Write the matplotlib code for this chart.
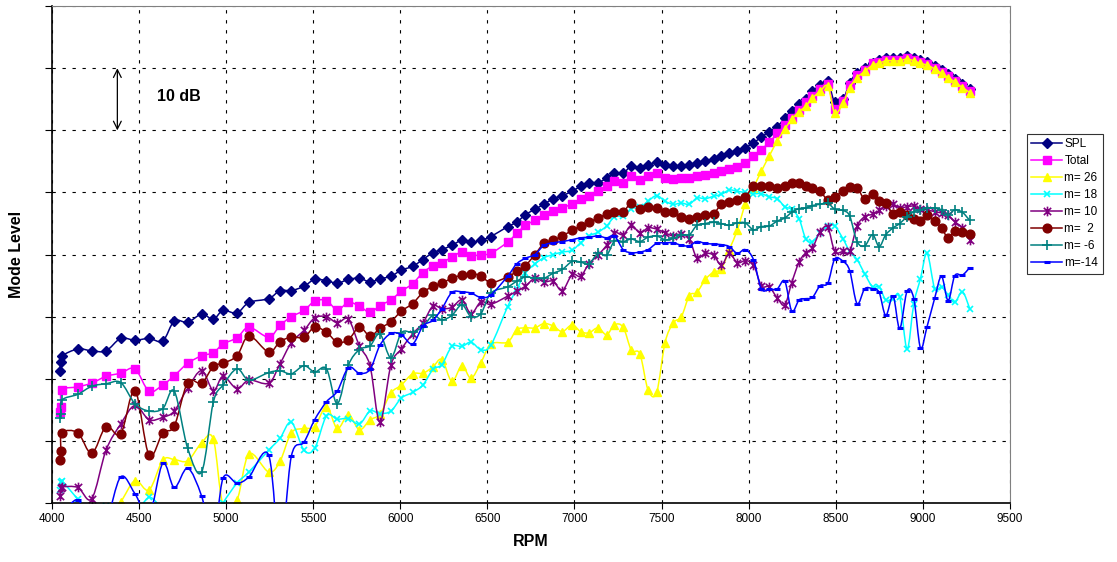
import numpy as np
import matplotlib
matplotlib.use("Agg")
import matplotlib.pyplot as plt
from matplotlib.path import Path
from matplotlib.patches import PathPatch
from matplotlib.lines import Line2D

plt.rcParams['font.family'] = ['Liberation Sans', 'DejaVu Sans']

# shared RPM axis for all modes
rpm = [4045, 4050, 4058, 4148, 4228, 4310, 4394, 4476, 4557, 4636,
       4702, 4779, 4859, 4926, 4982, 5062, 5131, 5244, 5309, 5374,
       5447, 5508, 5576, 5638, 5702, 5765, 5826, 5883, 5946, 6006,
       6070, 6130, 6187, 6239, 6296, 6354, 6406, 6463, 6520,
       6616, 6668, 6718, 6773, 6825, 6878, 6930, 6987, 7035, 7083,
       7135, 7185, 7230, 7280, 7327, 7376, 7423, 7472, 7520, 7567,
       7614, 7660, 7703, 7752, 7799, 7844, 7889, 7935, 7981, 8028,
       8073, 8119, 8165, 8208, 8248, 8290, 8329, 8367, 8411, 8455,
       8495, 8543, 8581, 8623, 8667, 8712, 8750, 8788, 8830, 8868,
       8910, 8949, 8987, 9025, 9069, 9108, 9146, 9184, 9228, 9270]

spl = [21.3, 22.7, 23.7, 24.8, 24.5, 24.5, 26.5, 26.2, 26.5, 26.1,
       29.3, 29.1, 30.4, 29.6, 31.0, 30.6, 32.3, 32.9, 34.2, 34.2,
       34.9, 36.0, 35.8, 35.4, 36.0, 36.2, 35.6, 36.1, 36.5, 37.5,
       38.1, 39.2, 40.3, 40.8, 41.5, 42.3, 42.0, 42.3, 42.9,
       44.5, 45.2, 46.4, 47.3, 48.1, 49.0, 49.5, 50.2, 51.0, 51.6,
       51.6, 52.3, 53.2, 53.1, 54.3, 53.9, 54.4, 54.9, 54.4, 54.3,
       54.3, 54.5, 54.7, 55.0, 55.4, 55.9, 56.3, 56.6, 57.2, 58.0,
       58.9, 59.8, 60.6, 62.0, 63.2, 64.2, 65.0, 66.3, 67.3, 67.9,
       64.5, 65.0, 67.7, 69.3, 70.1, 70.9, 71.3, 71.7, 71.7, 71.7,
       72.0, 71.7, 71.3, 71.0, 70.4, 69.7, 69.0, 68.3, 67.4, 66.6]

total = [14.7, 15.5, 18.2, 18.7, 19.3, 20.4, 20.9, 21.6, 18.0, 19.0,
         20.5, 22.5, 23.7, 24.2, 25.6, 26.6, 28.3, 26.7, 28.6, 30.0,
         31.0, 32.5, 32.6, 31.1, 32.3, 31.7, 30.7, 31.8, 32.7, 34.1,
         35.3, 37.1, 38.2, 38.7, 39.6, 40.4, 39.8, 40.0, 40.2,
         42.0, 43.4, 44.7, 45.5, 46.3, 47.0, 47.5, 48.2, 48.9, 49.4,
         50.2, 51.0, 51.9, 51.6, 52.6, 52.0, 52.7, 53.2, 52.4, 52.1,
         52.3, 52.3, 52.7, 52.8, 53.1, 53.4, 53.8, 54.1, 54.8, 55.9,
         56.9, 58.1, 59.5, 60.8, 62.0, 63.3, 64.5, 65.5, 66.7, 67.4,
         63.4, 64.7, 67.3, 68.9, 69.8, 70.8, 71.0, 71.4, 71.4, 71.4,
         71.7, 71.4, 71.0, 70.7, 70.1, 69.4, 68.7, 68.0, 67.1, 66.3]

m26 = [-4, -4, -4, -4, -3, -2, 0.2, 3.6, 2.1, 6.9,
       7.0, 6.8, 9.7, 10.3, -0.3, 0.5, 7.9, 5.0, 6.7, 11.3,
       12.0, 12.3, 15.5, 12.0, 14.2, 11.8, 13.4, 14.3, 17.7, 19.0,
       20.8, 20.9, 21.9, 23.1, 19.6, 22.1, 20.1, 22.6, 25.6,
       25.9, 27.9, 28.2, 28.2, 28.9, 28.5, 27.6, 28.7, 27.6, 27.4,
       28.2, 27.1, 28.7, 28.3, 24.6, 24.0, 18.2, 17.8, 25.8, 29.0,
       30.0, 33.4, 33.9, 36.0, 37.2, 37.7, 40.8, 43.9, 48.1, 50.8,
       53.4, 55.9, 58.3, 60.2, 61.8, 63.0, 63.9, 65.2, 66.3, 67.1,
       62.8, 64.4, 66.9, 68.5, 69.5, 70.5, 70.8, 71.2, 71.2, 71.2,
       71.5, 71.2, 70.8, 70.5, 69.9, 69.2, 68.5, 67.8, 66.9, 66.1]

m18 = [2.1, 3.3, 3.5, 0.6, -2, -0.5, -3, -2, 0.9, -1,
       -1.5, -3, -4, -3, 0.0, 3.2, 5.0, 8.5, 10.4, 13.0,
       8.5, 8.8, 14.0, 13.5, 13.6, 12.7, 14.8, 14.4, 14.8, 16.9,
       17.8, 19.0, 21.5, 22.3, 25.2, 25.2, 25.9, 24.7, 25.4,
       31.6, 34.4, 37.0, 38.5, 39.5, 40.0, 40.4, 40.7, 41.9, 43.0,
       43.6, 44.6, 46.1, 46.2, 47.4, 47.6, 48.6, 49.5, 48.6, 48.1,
       48.3, 48.1, 49.1, 49.0, 49.4, 49.7, 50.4, 50.2, 50.0, 49.8,
       49.8, 49.3, 49.0, 47.7, 47.3, 45.8, 42.5, 42.1, 43.5, 44.6,
       44.6, 42.5, 40.5, 39.2, 36.9, 34.8, 34.8, 32.7, 32.9, 33.2,
       24.8, 32.1, 36.1, 40.2, 34.5, 34.8, 33.5, 32.3, 34.0, 31.3]

m10 = [1.1, 2.4, 2.6, 2.5, 0.7, 8.5, 12.7, 15.7, 13.4, 13.8,
       14.8, 18.5, 21.3, 18.1, 20.4, 18.4, 19.8, 19.3, 22.4, 25.8,
       27.8, 29.8, 30.0, 29.0, 29.6, 25.3, 22.1, 13.0, 22.2, 24.8,
       27.2, 29.0, 31.7, 31.3, 31.5, 32.7, 30.5, 32.4, 32.0,
       33.3, 34.1, 34.9, 36.2, 35.6, 35.7, 34.2, 36.8, 36.5, 38.5,
       39.9, 41.5, 43.5, 43.2, 44.7, 43.5, 44.3, 44.1, 43.5, 43.0,
       43.3, 42.5, 39.5, 40.2, 39.9, 38.3, 40.2, 38.7, 39.0, 38.4,
       35.0, 34.8, 33.0, 31.9, 35.5, 38.8, 40.3, 41.1, 43.7, 44.4,
       40.5, 40.5, 40.5, 44.6, 46.1, 46.5, 47.1, 47.8, 48.1, 47.5,
       47.7, 47.8, 47.3, 47.2, 46.9, 46.7, 46.3, 45.3, 44.3, 42.4]

m2 = [6.9, 8.3, 11.3, 11.3, 8.0, 12.3, 11.1, 18.1, 7.7, 11.3,
      12.4, 19.4, 19.3, 22.0, 22.5, 23.7, 26.9, 24.3, 26.0, 26.7,
      26.7, 28.3, 27.5, 25.9, 26.3, 28.3, 26.9, 28.1, 29.2, 30.9,
      32.1, 33.9, 34.9, 35.4, 36.2, 36.7, 36.9, 36.6, 35.5,
      36.4, 37.3, 38.2, 40.0, 41.8, 42.3, 43.0, 43.9, 44.6, 45.2,
      45.9, 46.5, 46.9, 46.9, 48.3, 47.3, 47.6, 47.5, 46.9, 46.8,
      46.1, 45.8, 46.0, 46.4, 46.6, 48.1, 48.5, 48.8, 49.3, 51.0,
      51.0, 51.0, 50.8, 51.1, 51.5, 51.5, 51.1, 50.8, 50.2, 48.8,
      49.3, 50.3, 50.9, 50.8, 48.9, 49.8, 48.6, 48.3, 46.5, 46.9,
      46.3, 45.8, 45.4, 46.3, 45.4, 44.3, 42.7, 43.8, 43.7, 43.3]

m_6 = [13.7, 14.4, 16.6, 17.5, 18.8, 19.2, 19.4, 16.0, 14.8, 15.2,
       18.0, 8.8, 5.0, 16.2, 19.0, 21.6, 19.8, 21.0, 21.3, 20.8,
       22.1, 21.1, 21.6, 16.0, 22.2, 24.7, 25.3, 27.2, 23.4, 27.4,
       27.5, 28.4, 30.2, 29.5, 30.2, 31.9, 30.0, 30.5, 33.8,
       34.8, 35.7, 36.4, 36.2, 36.2, 37.0, 37.6, 38.9, 38.8, 38.5,
       40.2, 39.9, 42.2, 42.1, 42.5, 42.1, 42.8, 43.0, 42.4, 42.6,
       43.2, 43.2, 44.7, 45.0, 45.2, 45.0, 44.7, 45.1, 45.1, 44.0,
       44.5, 44.6, 45.4, 45.9, 46.8, 47.4, 47.5, 47.9, 48.1, 48.3,
       47.3, 47.1, 46.2, 42.1, 41.4, 43.2, 41.3, 43.2, 44.3, 45.0,
       46.1, 46.9, 47.2, 47.5, 47.5, 47.2, 46.4, 47.2, 46.8, 45.5]

m_14 = [-2, -2, -2, 0.5, -4, -3, 4.2, 1.5, -2, 6.4,
        2.5, 5.6, 1.1, -6, 4.0, 3.2, 4.2, 7.7, -8, 7.5,
        9.8, 13.4, 16.3, 18.0, 21.8, 20.9, 21.5, 25.4, 27.3, 27.1,
        25.6, 28.5, 29.4, 31.3, 33.9, 34.0, 33.8, 33.1, 33.5,
        36.5, 38.5, 39.4, 40.0, 41.5, 41.9, 42.1, 42.4, 42.7, 42.8,
        43.0, 42.7, 43.0, 40.8, 40.3, 40.4, 40.8, 41.8, 41.9, 41.9,
        41.5, 41.4, 42.1, 41.8, 41.7, 41.6, 41.3, 40.2, 40.8, 39.2,
        34.5, 34.4, 34.5, 35.7, 30.9, 32.7, 32.9, 33.1, 35.0, 35.4,
        39.3, 38.9, 37.4, 32.1, 34.5, 34.5, 33.9, 30.2, 33.3, 28.1,
        34.1, 32.9, 25.0, 28.4, 33.0, 36.5, 32.6, 36.6, 36.7, 37.9]

labels = ['SPL', 'Total', 'm= 26', 'm= 18', 'm= 10', 'm=  2', 'm= -6', 'm=-14']

# Excel-like asterisk marker: vertical bar plus a cross
star = Path([(0, -1), (0, 1), (-0.75, -0.75), (0.75, 0.75), (-0.75, 0.75), (0.75, -0.75)],
            [Path.MOVETO, Path.LINETO, Path.MOVETO, Path.LINETO, Path.MOVETO, Path.LINETO])

styles = [
    dict(color='#000080', marker='D', ms=4.8),
    dict(color='#FF00FF', marker='s', ms=5.8),
    dict(color='#FFFF00', marker='^', ms=6.2),
    dict(color='#00FFFF', marker='x', ms=5, mew=1.2),
    dict(color='#800080', marker=star, ms=7, mew=1.2),
    dict(color='#800000', marker='o', ms=6.3),
    dict(color='#008080', marker='+', ms=7, mew=1.2),
    dict(color='#0000FF', marker='_', ms=5, mew=2.2),
]


def smooth_path(x, y):
    # Excel "smoothed line": cubic Bezier pieces through every point
    p = np.column_stack([x, y]).astype(float)
    ext = np.vstack([p[0], p, p[-1]])
    verts = [p[0]]
    codes = [Path.MOVETO]
    for i in range(len(p) - 1):
        c1 = ext[i + 1] + (ext[i + 2] - ext[i]) / 6.0
        c2 = ext[i + 2] - (ext[i + 3] - ext[i + 1]) / 6.0
        verts += [c1, c2, p[i + 1]]
        codes += [Path.CURVE4] * 3
    return Path(verts, codes)


fig = plt.figure(figsize=(11.17, 5.62), dpi=100)
ax = fig.add_axes([0.0466, 0.105, 0.8574, 0.884])

series = [spl, total, m26, m18, m10, m2, m_6, m_14]
handles = []
for k, (vals, lab, st) in enumerate(zip(series, labels, styles)):
    line = PathPatch(smooth_path(rpm, vals), fill=False, edgecolor=st['color'],
                     lw=1.1, zorder=2 + k * 0.1)
    ax.add_patch(line)
    ax.plot(rpm, vals, linestyle='none', zorder=2.05 + k * 0.1, **st)
    handles.append(Line2D([], [], lw=1.1, label=lab, **st))

ax.set_xlim(4000, 9500)
ax.set_ylim(0, 80)
ax.set_xticks(np.arange(4000, 9501, 500))
ax.set_yticks(np.arange(0, 81, 10))
ax.set_yticklabels([])
ax.tick_params(axis='x', direction='out', length=4, labelsize=8.5, width=0.8)
ax.tick_params(axis='y', direction='out', length=5, width=0.8)
ax.grid(True, color='black', linestyle=(0, (3, 6)), linewidth=0.8)
ax.set_axisbelow(True)

for s in ['top', 'right']:
    ax.spines[s].set_color('#808080')
for s in ['left', 'bottom']:
    ax.spines[s].set_color('black')
    ax.spines[s].set_linewidth(1.2)

ax.set_xlabel('RPM', fontsize=11.5, fontweight='bold', labelpad=6)
ax.set_ylabel('Mode Level', fontsize=11.5, fontweight='bold', labelpad=12)

ax.annotate('', xy=(4375, 70), xytext=(4375, 60),
            arrowprops=dict(arrowstyle='<->', color='black', lw=0.9,
                            shrinkA=0, shrinkB=0, mutation_scale=14))
ax.text(4600, 65.5, '10 dB', fontsize=11.5, fontweight='bold', va='center')

leg = fig.legend(handles=handles, loc='upper left', bbox_to_anchor=(0.919, 0.762),
                 fontsize=8.5, frameon=True, fancybox=False, edgecolor='black',
                 handlelength=2.6, borderpad=0.4, labelspacing=0.42,
                 handletextpad=0.2, borderaxespad=0)
leg.get_frame().set_linewidth(0.8)

fig.savefig('out.png', dpi=100)
